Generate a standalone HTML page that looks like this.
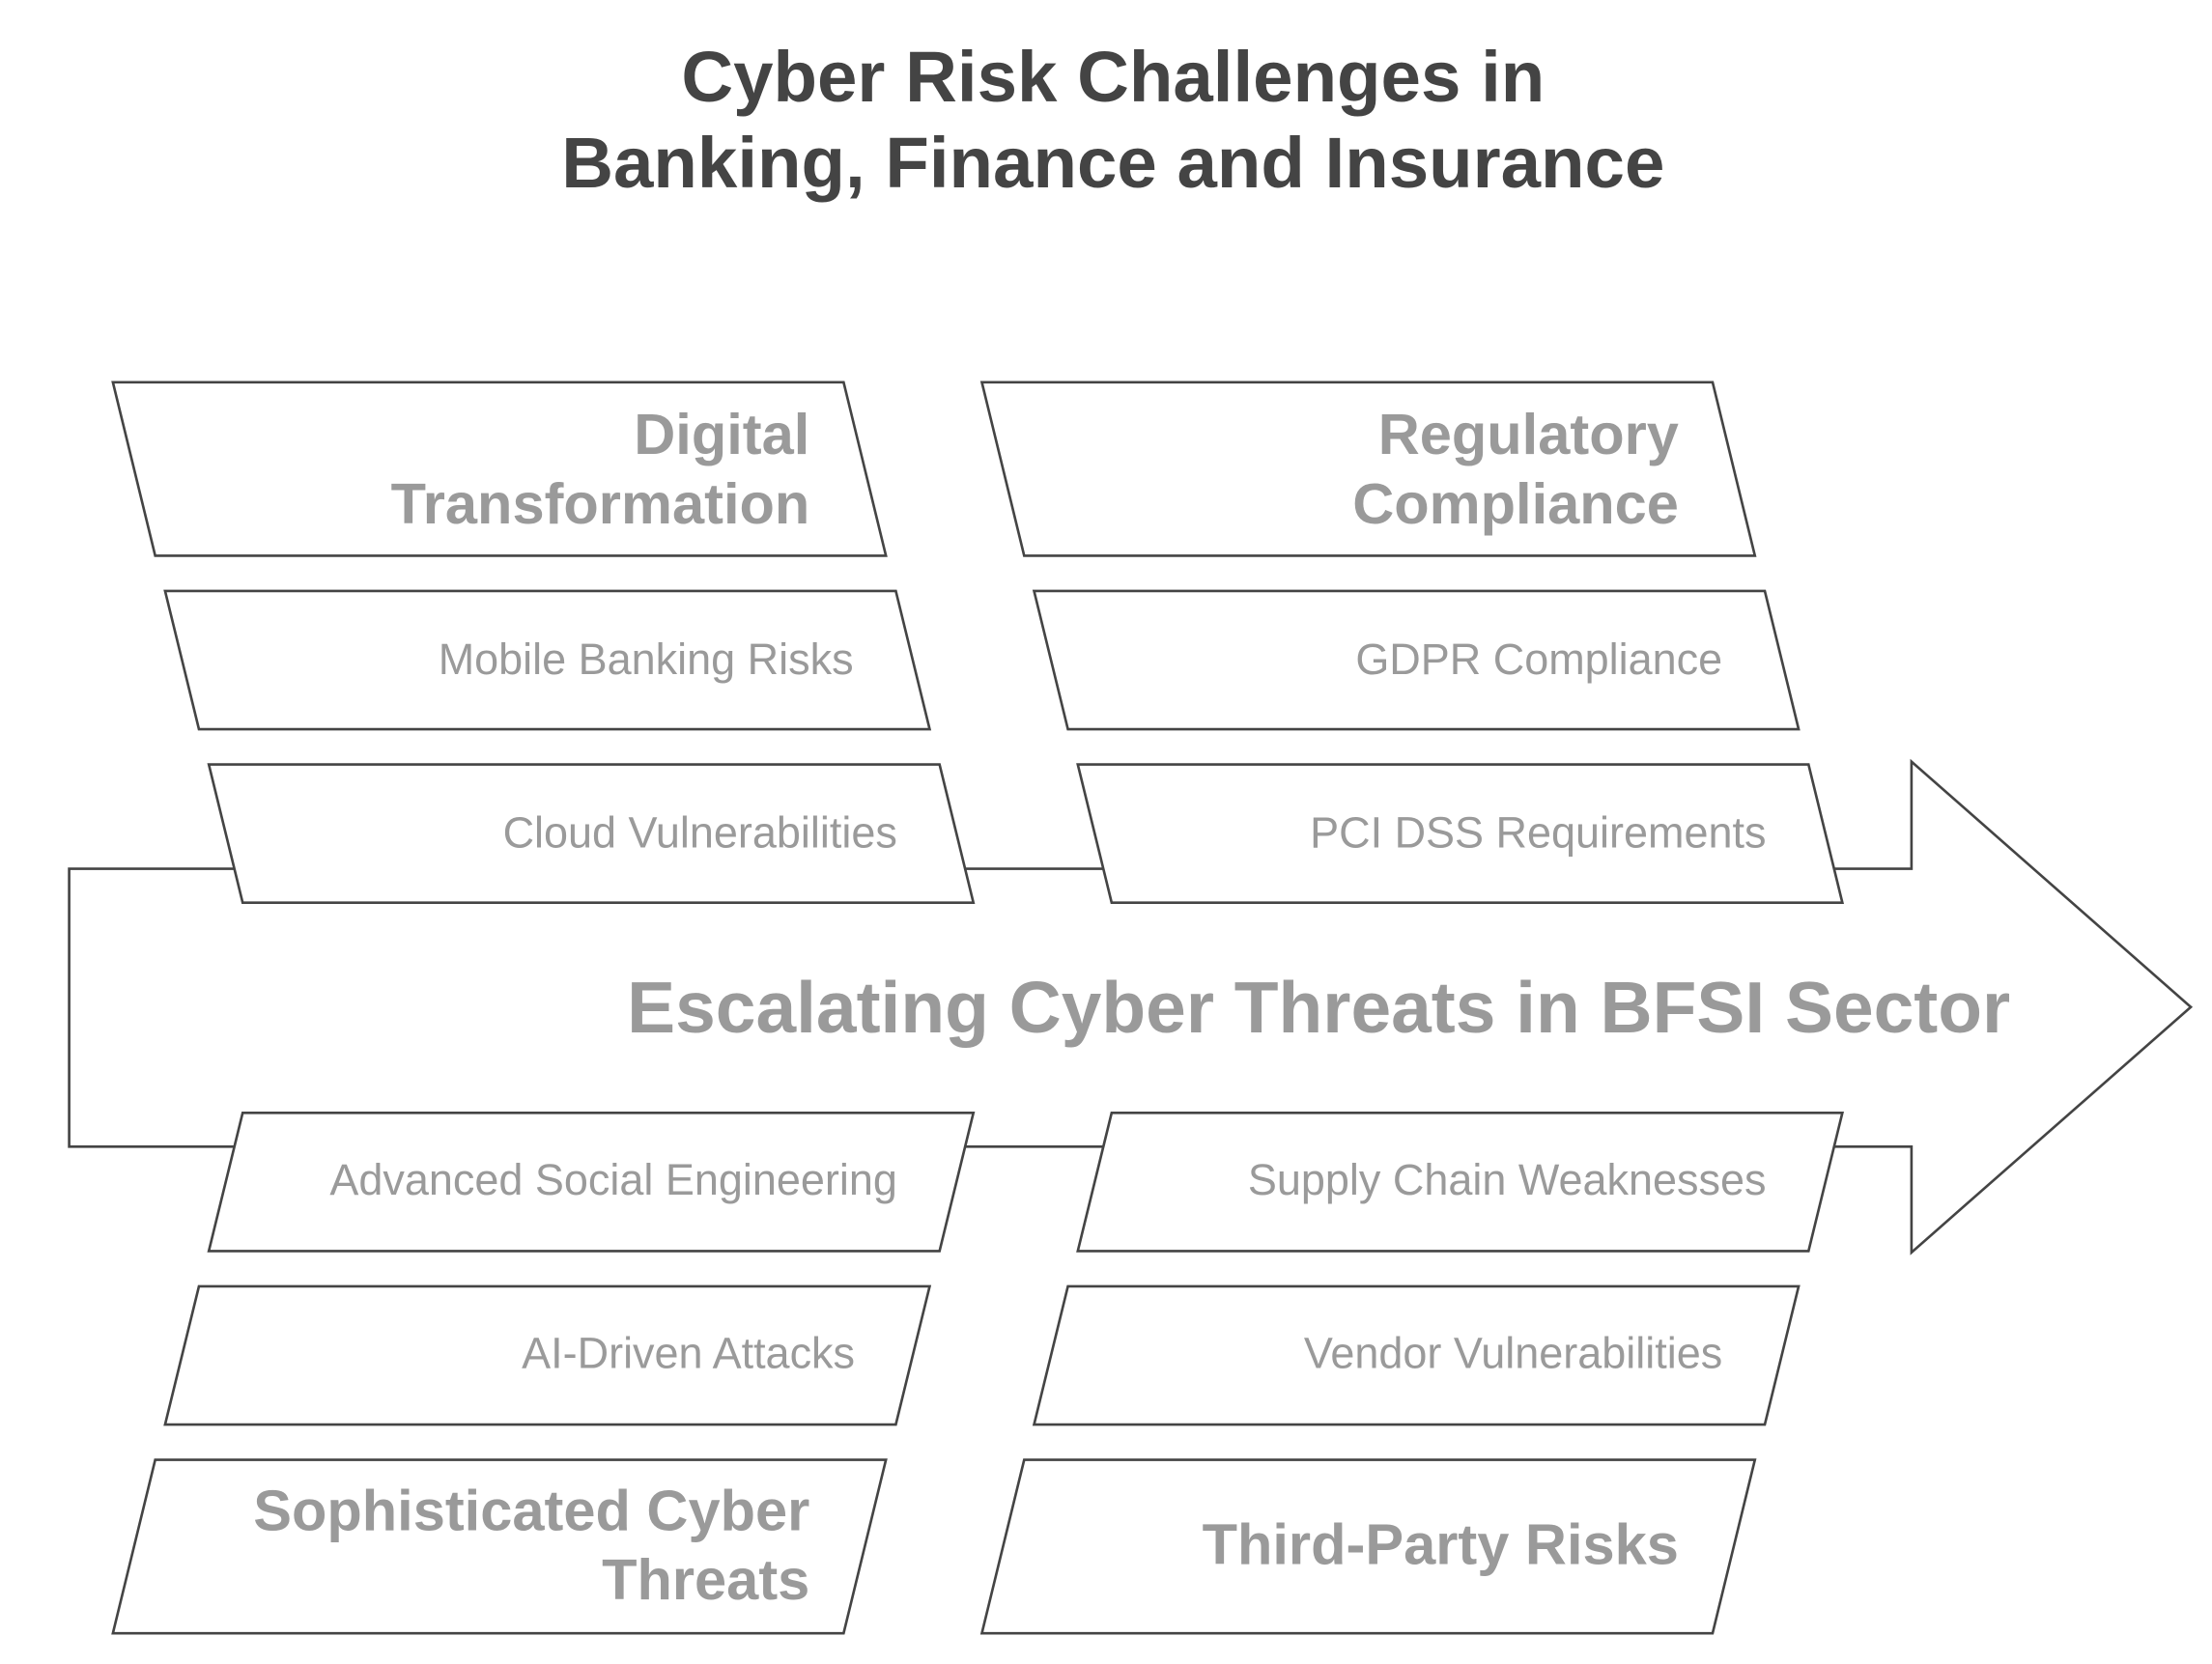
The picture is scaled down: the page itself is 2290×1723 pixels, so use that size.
<!DOCTYPE html>
<html><head><meta charset="utf-8"><style>
html,body{margin:0;padding:0;background:#fff;}
svg{display:block;}
text{font-family:"Liberation Sans",sans-serif;}
.h{font-weight:bold;fill:#9a9a9a;font-size:40.8px;}
.s{fill:#9a9a9a;font-size:30.8px;}
.b{fill:#fff;stroke:#444;stroke-width:1.8;}
</style></head><body>
<svg width="2290" height="1723" viewBox="0 0 1568 1179.8" xmlns="http://www.w3.org/2000/svg">
<rect width="1568" height="1180" fill="#fff"/>
<text x="789" y="72" text-anchor="middle" font-weight="bold" font-size="51" fill="#444">Cyber Risk Challenges in</text>
<text x="789" y="133" text-anchor="middle" font-weight="bold" font-size="51" fill="#444">Banking, Finance and Insurance</text>

<polygon class="b" points="49,616 1355,616 1355,540 1553,714 1355,888 1355,813 49,813"/>
<text x="1425" y="732" text-anchor="end" font-weight="bold" font-size="51.3" fill="#9a9a9a">Escalating Cyber Threats in BFSI Sector</text>

<polygon class="b" points="80,271 598,271 628,394 110,394"/>
<text class="h" x="574" y="322" text-anchor="end">Digital</text>
<text class="h" x="574" y="371" text-anchor="end">Transformation</text>
<polygon class="b" points="117,419 635,419 659,517 141,517"/>
<text class="s" x="605" y="478" text-anchor="end">Mobile Banking Risks</text>
<polygon class="b" points="148,542 666,542 690,640 172,640"/>
<text class="s" x="636" y="601" text-anchor="end">Cloud Vulnerabilities</text>

<polygon class="b" points="696,271 1214,271 1244,394 726,394"/>
<text class="h" x="1190" y="322" text-anchor="end">Regulatory</text>
<text class="h" x="1190" y="371" text-anchor="end">Compliance</text>
<polygon class="b" points="733,419 1251,419 1275,517 757,517"/>
<text class="s" x="1221" y="478" text-anchor="end">GDPR Compliance</text>
<polygon class="b" points="764,542 1282,542 1306,640 788,640"/>
<text class="s" x="1252" y="601" text-anchor="end">PCI DSS Requirements</text>

<polygon class="b" points="172,789 690,789 666,887 148,887"/>
<text class="s" x="636" y="847" text-anchor="end">Advanced Social Engineering</text>
<polygon class="b" points="141,912 659,912 635,1010 117,1010"/>
<text class="s" x="606" y="970" text-anchor="end">AI-Driven Attacks</text>
<polygon class="b" points="110,1035 628,1035 598,1158 80,1158"/>
<text class="h" x="574" y="1085" text-anchor="end">Sophisticated Cyber</text>
<text class="h" x="574" y="1134" text-anchor="end">Threats</text>

<polygon class="b" points="788,789 1306,789 1282,887 764,887"/>
<text class="s" x="1252" y="847" text-anchor="end">Supply Chain Weaknesses</text>
<polygon class="b" points="757,912 1275,912 1251,1010 733,1010"/>
<text class="s" x="1221" y="970" text-anchor="end">Vendor Vulnerabilities</text>
<polygon class="b" points="726,1035 1244,1035 1214,1158 696,1158"/>
<text class="h" x="1190" y="1109" text-anchor="end">Third-Party Risks</text>
</svg>
</body></html>
